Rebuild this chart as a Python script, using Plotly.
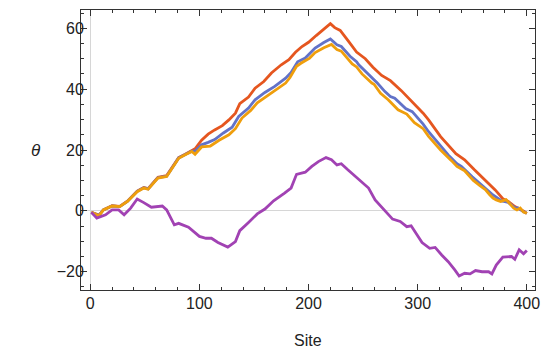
import plotly.graph_objects as go

# ---- data ----
red_site = [1, 8, 12, 20, 27, 34, 43, 49, 53, 62, 70, 81, 87, 93, 96, 102, 108, 114, 121, 127,
            133, 137, 145, 151, 159, 166, 175, 182, 188, 194, 200, 207, 214, 220, 224, 229, 236,
            244, 252, 259, 267, 275, 285, 290, 293, 300, 305, 310, 321, 335, 343, 352, 362, 366,
            371, 378, 383, 389, 394, 398, 400]
red_theta = [-0.5, -1.4, 0.3, 1.7, 1.5, 3.2, 6.5, 7.7, 7.3, 11.0, 11.6, 17.5, 18.6, 19.7, 20.4,
             23.2, 25.2, 26.6, 28.0, 29.9, 32.1, 35.2, 37.4, 40.3, 42.5, 45.3, 48.0, 49.7, 52.1,
             54.0, 55.4, 57.6, 59.8, 61.5, 60.2, 59.3, 56.0, 52.2, 50.0, 47.2, 44.5, 42.8, 39.5,
             37.6, 36.8, 34.0, 32.1, 29.9, 24.4, 18.8, 16.8, 13.5, 10.0, 8.5, 6.9, 4.0, 3.1, 1.4,
             0.6, -0.3, -0.8]

blue_site = [1, 8, 12, 20, 27, 34, 43, 49, 53, 62, 70, 81, 87, 93, 96, 102, 108, 114, 122, 130,
             136, 145, 151, 160, 169, 179, 184, 190, 197, 202, 206, 214, 220, 226, 230, 238, 244,
             246, 255, 260, 263, 270, 275, 279, 289, 295, 301, 305, 310, 316, 321, 328, 336, 340,
             350, 359, 366, 368, 377, 383, 389, 392, 397, 400]
blue_theta = [-0.5, -1.5, 0.3, 1.6, 1.4, 3.1, 6.4, 7.6, 7.2, 10.9, 11.4, 17.4, 18.5, 19.6, 19.6,
              21.7, 22.5, 23.4, 25.6, 27.5, 31.0, 33.8, 36.5, 38.9, 40.9, 43.6, 45.5, 49.0, 50.2,
              51.9, 53.5, 55.3, 56.5, 54.6, 54.0, 50.8, 49.0, 48.0, 45.0, 43.1, 42.0, 39.2, 37.6,
              37.0, 33.6, 32.6, 30.2, 28.5, 26.0, 23.4, 21.2, 18.4, 15.5, 14.6, 11.2, 8.5, 6.3,
              5.5, 3.3, 2.8, 1.0, 1.0, -0.3, -0.8]

orange_site = [1, 8, 12, 20, 27, 34, 43, 49, 53, 62, 70, 81, 87, 93, 96, 102, 110, 118, 127, 133,
               139, 147, 153, 160, 169, 179, 183, 189, 193, 201, 206, 214, 221, 226, 230, 240, 244,
               249, 258, 260, 266, 273, 282, 290, 297, 305, 310, 321, 331, 336, 343, 351, 357, 362,
               366, 369, 372, 376, 381, 388, 391, 394, 397, 400]
orange_theta = [-0.5, -1.6, 0.3, 1.6, 1.4, 3.1, 6.3, 7.5, 7.1, 10.8, 11.3, 17.3, 18.4, 19.5, 18.6,
                21.0, 21.3, 23.2, 25.0, 27.0, 30.5, 33.0, 35.5, 37.2, 39.6, 42.0, 43.8, 47.5, 48.5,
                50.2, 52.0, 53.6, 54.7, 53.0, 52.5, 48.3, 47.3, 45.0, 42.0, 41.6, 38.6, 36.5, 33.2,
                31.8, 29.0, 27.0, 24.5, 20.0, 16.5, 14.6, 13.2, 10.0, 8.3, 7.0, 5.3, 4.2, 3.6, 3.1,
                3.7, 0.9, 0.3, 0.9, -0.4, -0.8]

purple_site = [1, 6, 14, 20, 26, 31, 37, 43, 49, 56, 66, 70, 77, 81, 90, 100, 106, 111, 117, 126,
               133, 137, 145, 153, 160, 168, 178, 184, 189, 197, 203, 209, 216, 221, 226, 230, 236,
               246, 255, 261, 268, 277, 284, 290, 294, 300, 304, 311, 316, 322, 328, 334, 338, 343,
               348, 353, 359, 365, 368, 372, 378, 386, 389, 393, 397, 400]
purple_theta = [-0.5, -2.4, -1.3, 0.3, 0.3, -1.3, 0.9, 3.9, 2.7, 1.2, 1.6, 0.3, -4.6, -4.1, -5.4,
                -8.4, -9.0, -9.0, -10.4, -11.9, -10.1, -6.5, -3.8, -1.0, 0.6, 3.3, 5.8, 7.5, 12.0,
                12.7, 14.6, 16.2, 17.5, 16.8, 15.1, 15.5, 13.5, 10.2, 7.5, 3.6, 0.9, -2.7, -3.5,
                -5.2, -4.9, -8.0, -10.4, -12.3, -12.0, -14.5, -16.7, -19.4, -21.4, -20.5, -20.7,
                -19.6, -20.0, -20.0, -20.7, -17.8, -15.2, -15.0, -15.9, -12.8, -14.1, -13.0]

x_ticks = [0, 100, 200, 300, 400]
y_ticks = [-20, 0, 20, 40, 60]

series = [
    (red_site, red_theta, "#E5561F"),
    (blue_site, blue_theta, "#6272C8"),
    (orange_site, orange_theta, "#EF9E0C"),
    (purple_site, purple_theta, "#A142B3"),
]

fig = go.Figure()
for xs, ys, col in series:
    fig.add_trace(go.Scatter(x=xs, y=ys, mode="lines",
                             line=dict(color=col, width=2.8), showlegend=False))

font = dict(family="Liberation Sans, Arial, sans-serif", size=16, color="#222")
axis_common = dict(
    showline=True, linecolor="#333", linewidth=1, mirror="ticks",
    ticks="inside", ticklen=6, tickcolor="#333", tickwidth=1,
    showgrid=False, zeroline=True, zerolinecolor="#d6d6d6", zerolinewidth=1,
    tickfont=font, automargin=False,
)
fig.update_layout(
    width=545, height=350,
    margin=dict(l=81, r=10, t=10, b=60),
    paper_bgcolor="white", plot_bgcolor="white",
    xaxis=dict(range=[-8.5, 407.5], tickvals=x_ticks, ticklabelstandoff=-1,
               minor=dict(dtick=20, ticks="inside", ticklen=3, tickcolor="#333", tickwidth=1),
               **axis_common),
    yaxis=dict(range=[-26, 66], tickvals=y_ticks, ticklabelstandoff=-7,
               minor=dict(dtick=5, ticks="inside", ticklen=3, tickcolor="#333", tickwidth=1),
               **axis_common),
    annotations=[
        dict(text="Site", x=308, y=340, xref="paper", yref="paper", showarrow=False,
             font=font, xanchor="center", yanchor="middle"),
        dict(text="<i>θ</i>", x=36, y=150, xref="paper", yref="paper", showarrow=False,
             font=dict(family="Liberation Sans, Arial, sans-serif", size=17, color="#222"),
             xanchor="center", yanchor="middle"),
    ],
)
# annotation positions given in pixels -> convert to paper coords
pw, ph = 545 - 81 - 10, 350 - 10 - 60
for a in fig.layout.annotations:
    px, py = a.x, a.y
    a.x = (px - 81) / pw
    a.y = (350 - 60 - py) / ph
fig.write_html("out.html", config={"displayModeBar": False},
               post_script="document.body.style.margin='0';")
